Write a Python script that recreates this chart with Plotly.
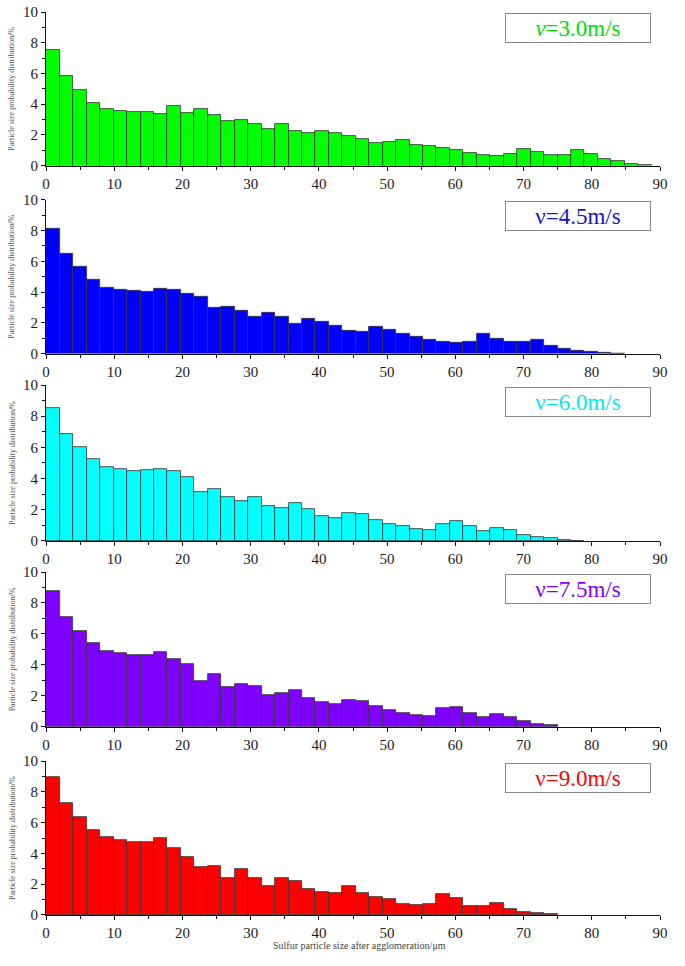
import plotly.graph_objects as go
from plotly.subplots import make_subplots

# ---- data ----
BIN_START = 0.05
BIN_WIDTH = 1.972

labels = ["<i>v</i>=3.0m/s", "ν=4.5m/s", "ν=6.0m/s", "ν=7.5m/s", "ν=9.0m/s"]
colors = ["#00FF00", "#0000FF", "#00FFFF", "#8000FF", "#FF0000"]
text_colors = ["#00DD00", "#1515D0", "#00E8F0", "#8000FF", "#FF0000"]

v30 = [7.5, 5.8, 4.9, 4.1, 3.65, 3.55, 3.5, 3.48, 3.35, 3.85, 3.45, 3.65, 3.3, 2.92, 2.95,
       2.68, 2.4, 2.7, 2.25, 2.12, 2.25, 2.12, 1.9, 1.71, 1.45, 1.56, 1.65, 1.34, 1.28, 1.15,
       1.0, 0.8, 0.69, 0.65, 0.74, 1.08, 0.87, 0.67, 0.67, 1.0, 0.74, 0.43, 0.32, 0.13, 0.04]
v45 = [8.14, 6.52, 5.63, 4.81, 4.31, 4.18, 4.07, 4.0, 4.22, 4.18, 3.87, 3.72, 3.01, 3.05, 2.81,
       2.38, 2.64, 2.42, 1.97, 2.27, 2.1, 1.8, 1.47, 1.43, 1.73, 1.56, 1.32, 1.1, 0.91, 0.76,
       0.69, 0.78, 1.28, 0.97, 0.78, 0.8, 0.91, 0.52, 0.32, 0.22, 0.13, 0.04, 0.02]
v60 = [8.53, 6.84, 6.03, 5.26, 4.72, 4.59, 4.47, 4.53, 4.62, 4.47, 4.08, 3.14, 3.35, 2.8, 2.59,
       2.8, 2.24, 2.09, 2.41, 2.03, 1.6, 1.47, 1.79, 1.71, 1.32, 1.11, 0.98, 0.77, 0.73, 1.11,
       1.28, 0.98, 0.66, 0.83, 0.7, 0.41, 0.26, 0.17, 0.06, 0.02]
v75 = [8.75, 7.07, 6.21, 5.41, 4.89, 4.74, 4.61, 4.66, 4.81, 4.35, 4.03, 2.97, 3.43, 2.56, 2.74,
       2.65, 2.03, 2.16, 2.37, 1.83, 1.57, 1.44, 1.7, 1.66, 1.31, 1.1, 0.91, 0.73, 0.71, 1.19,
       1.25, 0.88, 0.63, 0.84, 0.63, 0.34, 0.19, 0.11]
v90 = [8.98, 7.27, 6.39, 5.52, 5.04, 4.87, 4.76, 4.76, 4.98, 4.35, 3.79, 3.14, 3.2, 2.42, 2.97,
       2.42, 1.9, 2.4, 2.23, 1.69, 1.52, 1.45, 1.86, 1.45, 1.17, 1.04, 0.74, 0.67, 0.74, 1.36,
       1.1, 0.61, 0.61, 0.8, 0.41, 0.22, 0.11, 0.06]
series = [v30, v45, v60, v75, v90]

x_ticks = [0, 10, 20, 30, 40, 50, 60, 70, 80, 90]
y_ticks = [0, 2, 4, 6, 8, 10]
y_title = "Particle size probability distribution/%"
x_title = "Sulfur particle size after agglomeration/μm"

# ---- figure ----
domains = [[0.830, 1.0], [0.6216, 0.7921], [0.4142, 0.5869], [0.2085, 0.3798], [0.0, 0.1705]]
SERIF = "Liberation Serif, Times New Roman, serif"

fig = make_subplots(rows=5, cols=1)
for i, vals in enumerate(series):
    centers = [BIN_START + (k + 0.5) * BIN_WIDTH for k in range(len(vals))]
    fig.add_trace(go.Bar(x=centers, y=vals, width=BIN_WIDTH,
                         marker=dict(color=colors[i], line=dict(color="#333333", width=0.8)),
                         showlegend=False, hoverinfo="x+y"), row=i + 1, col=1)

axis_common = dict(showline=True, linecolor="#111111", linewidth=1, showgrid=False,
                   zeroline=False, ticks="outside", ticklen=4, tickwidth=1, tickcolor="#111111",
                   automargin=False, ticklabeloverflow="allow",
                   tickfont=dict(family=SERIF, size=15, color="#1a1a1a"))
for i in range(5):
    n = "" if i == 0 else str(i + 1)
    fig.layout["xaxis" + n].update(range=[0, 90], tickvals=x_ticks,
                                   minor=dict(dtick=5, ticks="outside", ticklen=3, tickcolor="#111111"),
                                   **axis_common)
    fig.layout["yaxis" + n].update(range=[0, 10], tickvals=y_ticks, domain=domains[i],
                                   minor=dict(dtick=1, ticks="outside", ticklen=3, tickcolor="#111111"),
                                   **axis_common)
    fig.add_annotation(xref=f"x{n} domain", yref=f"y{n} domain", x=0.866, y=0.893,
                       text=labels[i], showarrow=False, xanchor="center", yanchor="middle",
                       font=dict(family=SERIF, size=23, color=text_colors[i]),
                       bordercolor="#888888", borderwidth=1, borderpad=2,
                       width=140, height=24, bgcolor="rgba(255,255,255,0)")
    fig.add_annotation(xref="paper", yref="paper", x=-0.0554,
                       y=(domains[i][0] + domains[i][1]) / 2,
                       text=y_title, textangle=-90, showarrow=False,
                       xanchor="center", yanchor="middle",
                       font=dict(family=SERIF, size=8, color="#555555"))

fig.add_annotation(xref="paper", yref="paper", x=0.511, y=-0.034, text=x_title,
                   showarrow=False, xanchor="center", yanchor="middle",
                   font=dict(family=SERIF, size=10, color="#444444"))

fig.update_layout(width=685, height=966, bargap=0,
                  margin=dict(l=46, r=25, t=12, b=51, autoexpand=False),
                  plot_bgcolor="white", paper_bgcolor="white", showlegend=False)

fig.write_html("out.html", config={"displayModeBar": False},
               post_script="document.body.style.margin='0';document.body.style.overflow='hidden';")
